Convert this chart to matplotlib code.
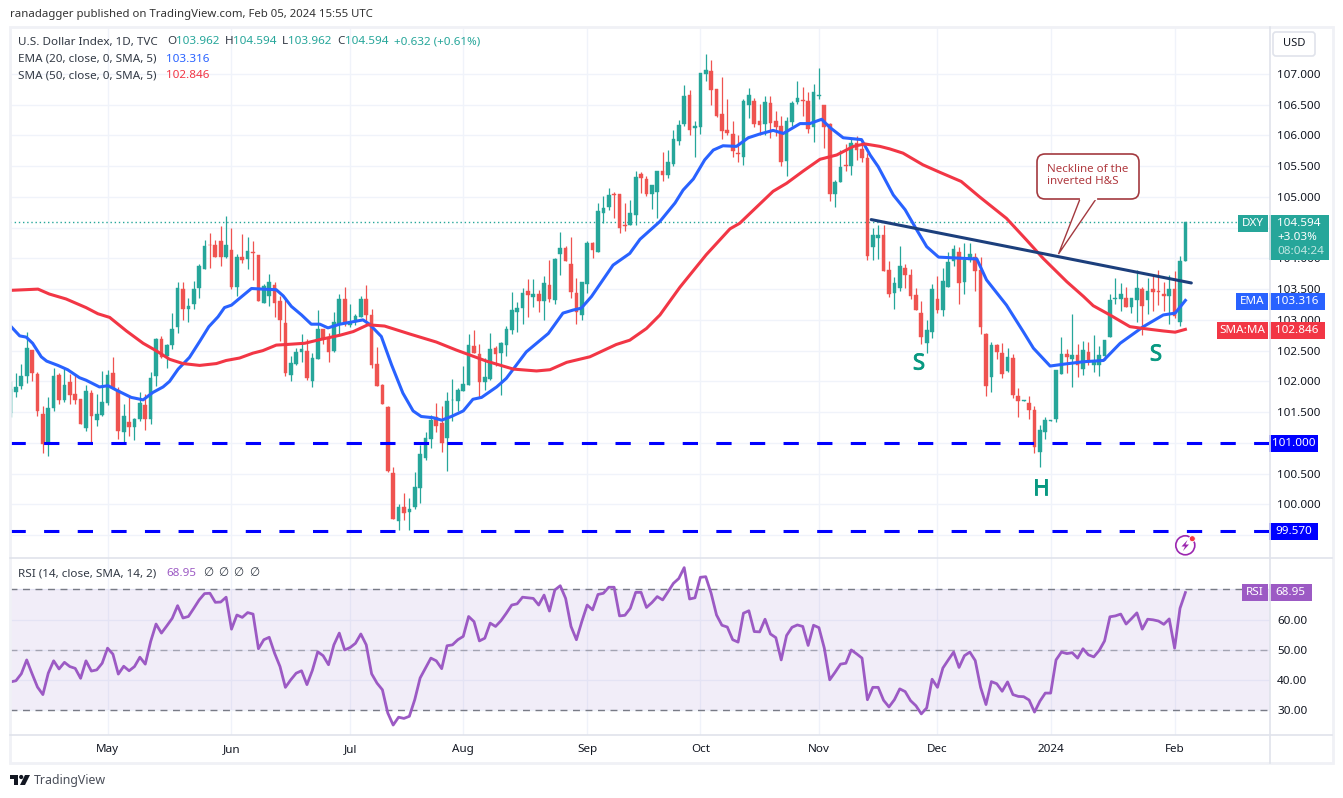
import matplotlib
matplotlib.use("Agg")
import matplotlib.pyplot as plt
import matplotlib.patheffects as pe
import numpy as np
from matplotlib.patches import Rectangle, FancyBboxPatch, Polygon, Circle

plt.rcParams['font.family'] = ['Noto Sans', 'DejaVu Sans']

# daily candles
opens = [101.49, 101.82, 101.93, 102.08, 102.51, 102.12, 101.47, 100.99, 101.56, 102.10,
         101.69, 101.99, 101.80, 101.71, 101.25, 101.81, 101.38, 101.46, 101.65, 102.14,
         101.86, 101.18, 101.34, 101.26, 101.39, 101.62, 101.39, 102.08, 102.69, 102.41,
         102.59, 102.89, 103.50, 103.17, 103.25, 103.52, 103.83, 104.22, 104.22, 104.28,
         104.03, 104.14, 103.54, 104.02, 103.99, 104.10, 104.06, 103.28, 103.38, 103.57,
         103.31, 102.95, 102.11, 102.29, 102.47, 102.49, 102.01, 102.37, 102.85, 102.71,
         102.50, 102.93, 103.34, 102.91, 102.96, 103.05, 103.34, 103.08, 102.28, 101.94,
         101.58, 100.51, 99.73, 99.96, 99.88, 99.96, 100.26, 100.76, 101.06, 101.42,
         101.32, 101.08, 101.69, 101.68, 101.84, 101.94, 102.58, 102.45, 101.99, 102.04,
         102.54, 102.46, 102.59, 102.84, 103.13, 103.19, 103.47, 103.37, 103.42, 103.31,
         103.57, 103.32, 104.07, 104.17, 103.91, 103.44, 103.08, 103.58, 104.25, 104.10,
         104.73, 104.84, 105.05, 105.05, 104.54, 104.54, 104.71, 105.37, 105.29, 105.05,
         105.08, 105.42, 105.36, 105.54, 105.91, 106.19, 106.66, 106.12, 106.14, 107.00,
         107.05, 106.75, 106.35, 106.09, 106.02, 105.71, 105.65, 106.49, 106.56, 106.23,
         106.19, 106.53, 106.23, 106.15, 105.58, 106.22, 106.54, 106.58, 106.56, 106.14,
         106.64, 106.49, 106.19, 105.05, 105.24, 105.52, 105.50, 105.88, 105.78, 105.63,
         104.19, 104.33, 104.38, 103.81, 103.44, 103.52, 103.84, 103.73, 103.41, 103.11,
         102.62, 102.80, 103.34, 103.16, 103.54, 103.96, 104.10, 103.62, 103.97, 104.02,
         103.81, 102.77, 102.07, 102.59, 102.46, 102.17, 102.38, 101.76, 101.68, 101.65,
         101.54, 100.85, 101.18, 101.36, 101.39, 102.12, 102.45, 102.36, 102.43, 102.20,
         102.48, 102.27, 102.27, 102.41, 102.72, 103.34, 103.34, 103.36, 103.21, 103.32,
         103.50, 103.32, 103.50, 103.47, 103.42, 103.39, 103.50, 102.97, 103.962]
highs = [102.00, 102.13, 102.28, 102.80, 102.51, 102.15, 101.60, 101.75, 102.22, 102.14,
         102.22, 102.12, 102.12, 101.71, 101.94, 101.86, 101.80, 102.17, 102.19, 102.40,
         101.91, 101.63, 101.77, 101.41, 101.83, 101.80, 102.15, 102.71, 102.74, 102.61,
         103.11, 103.62, 103.62, 103.36, 103.63, 103.91, 104.30, 104.41, 104.30, 104.53,
         104.69, 104.49, 104.07, 104.40, 104.35, 104.28, 104.06, 103.59, 103.75, 103.62,
         103.38, 103.37, 102.41, 102.54, 102.77, 102.69, 102.46, 103.16, 102.85, 102.79,
         103.13, 103.42, 103.53, 103.26, 103.10, 103.39, 103.57, 103.18, 102.56, 101.95,
         101.60, 100.61, 100.01, 100.19, 100.10, 100.53, 100.97, 101.18, 101.45, 101.65,
         101.60, 101.83, 102.04, 101.89, 102.25, 102.77, 102.84, 102.61, 102.38, 102.79,
         102.58, 102.64, 102.90, 103.45, 103.29, 103.52, 103.67, 103.67, 103.49, 103.71,
         103.97, 104.00, 104.43, 104.20, 104.35, 103.68, 103.62, 104.28, 104.27, 104.90,
         105.02, 105.15, 105.08, 105.05, 104.90, 104.95, 105.42, 105.41, 105.34, 105.19,
         105.42, 105.73, 105.76, 106.09, 106.25, 106.82, 106.74, 106.23, 107.02, 107.32,
         107.23, 106.75, 106.95, 106.59, 106.23, 106.01, 106.59, 106.77, 106.61, 106.51,
         106.64, 106.64, 106.40, 106.32, 106.30, 106.56, 106.88, 106.79, 106.71, 106.84,
         107.10, 106.49, 106.20, 105.28, 105.76, 105.86, 105.96, 105.99, 105.94, 105.71,
         104.49, 104.54, 104.54, 103.96, 103.70, 104.20, 103.91, 103.83, 103.52, 103.31,
         103.00, 103.58, 103.71, 103.84, 104.10, 104.22, 104.19, 104.25, 104.25, 104.09,
         104.02, 102.79, 102.64, 102.61, 102.62, 102.54, 102.45, 101.89, 101.69, 101.76,
         101.60, 101.29, 101.42, 101.37, 102.19, 102.72, 102.53, 103.10, 102.61, 102.66,
         102.64, 102.75, 102.58, 102.67, 103.42, 103.68, 103.60, 103.54, 103.36, 103.81,
         103.54, 103.68, 103.71, 103.81, 103.62, 103.73, 103.80, 104.04, 104.594]
lows = [101.42, 101.75, 101.88, 101.98, 102.01, 101.44, 100.84, 100.79, 101.52, 101.64,
        101.67, 101.64, 101.64, 101.31, 101.20, 101.02, 101.28, 101.43, 101.62, 101.88,
        101.06, 101.02, 101.11, 101.04, 101.36, 101.21, 101.30, 101.93, 102.38, 102.21,
        102.53, 102.79, 102.99, 102.96, 103.17, 103.35, 103.83, 103.84, 104.03, 103.88,
        104.01, 103.50, 103.38, 103.93, 103.82, 103.65, 103.30, 103.27, 103.23, 103.04,
        102.66, 102.09, 102.01, 102.26, 102.32, 102.03, 101.91, 102.37, 102.61, 102.32,
        102.47, 102.75, 102.90, 102.89, 102.92, 103.05, 102.93, 102.22, 101.93, 101.64,
        100.52, 99.76, 99.58, 99.75, 99.58, 99.93, 100.03, 100.72, 100.91, 101.18,
        100.85, 100.54, 101.36, 101.52, 101.84, 101.94, 102.46, 101.74, 101.86, 102.02,
        102.25, 101.78, 102.41, 102.77, 102.80, 102.93, 103.05, 103.21, 103.13, 103.00,
        103.29, 103.26, 103.73, 103.96, 103.36, 102.93, 103.00, 103.43, 104.00, 104.10,
        104.58, 104.79, 104.66, 104.41, 104.45, 104.54, 104.54, 105.06, 105.02, 104.80,
        104.66, 105.26, 105.31, 105.50, 105.84, 106.15, 106.01, 105.65, 106.02, 106.88,
        106.49, 106.30, 105.94, 106.01, 105.65, 105.57, 105.52, 106.28, 106.14, 106.01,
        106.01, 105.96, 105.99, 105.50, 105.34, 106.15, 106.51, 106.32, 106.04, 105.89,
        106.59, 105.80, 104.93, 104.84, 105.24, 105.42, 105.36, 105.60, 105.57, 103.97,
        103.97, 103.99, 103.80, 103.37, 103.18, 103.47, 103.52, 103.34, 103.16, 102.61,
        102.46, 102.71, 103.11, 103.06, 103.54, 103.88, 103.26, 103.42, 103.94, 103.47,
        102.77, 101.76, 101.83, 102.36, 102.06, 102.15, 101.73, 101.42, 101.68, 101.39,
        100.84, 100.61, 101.06, 101.36, 101.34, 102.12, 102.14, 101.91, 102.07, 102.10,
        102.27, 102.15, 102.09, 102.35, 102.72, 103.26, 103.15, 103.21, 103.11, 102.97,
        102.75, 103.10, 103.15, 103.24, 103.15, 102.93, 103.03, 102.90, 103.962]
closes = [101.88, 101.91, 102.09, 102.54, 102.13, 101.52, 100.99, 101.57, 102.09, 101.70,
          101.94, 101.78, 101.70, 101.31, 101.84, 101.43, 101.47, 101.67, 102.10, 101.89,
          101.20, 101.44, 101.26, 101.39, 101.65, 101.39, 102.06, 102.69, 102.40, 102.59,
          102.85, 103.52, 103.17, 103.23, 103.50, 103.88, 104.20, 104.21, 104.03, 104.03,
          104.22, 103.54, 104.02, 103.98, 104.12, 104.09, 103.30, 103.55, 103.62, 103.28,
          102.99, 102.13, 102.30, 102.48, 102.53, 102.06, 102.38, 102.85, 102.70, 102.48,
          102.97, 103.34, 102.93, 102.96, 103.06, 103.34, 103.08, 102.26, 101.93, 101.64,
          100.55, 99.77, 99.96, 99.86, 99.93, 100.28, 100.82, 101.08, 101.37, 101.28,
          101.00, 101.68, 101.70, 101.86, 101.96, 102.59, 102.46, 101.99, 102.07, 102.53,
          102.45, 102.62, 102.85, 103.16, 103.19, 103.44, 103.41, 103.42, 103.31, 103.60,
          103.34, 103.99, 104.17, 103.96, 103.45, 103.13, 103.62, 104.25, 104.14, 104.77,
          104.82, 105.03, 105.03, 104.49, 104.53, 104.74, 105.32, 105.31, 105.05, 105.19,
          105.42, 105.36, 105.57, 105.94, 106.17, 106.64, 106.09, 106.15, 107.02, 107.06,
          106.74, 106.32, 106.07, 106.04, 105.75, 105.70, 106.56, 106.66, 106.19, 106.17,
          106.54, 106.20, 106.14, 105.57, 106.23, 106.53, 106.61, 106.56, 106.10, 106.71,
          106.66, 106.14, 105.05, 105.24, 105.49, 105.50, 105.88, 105.76, 105.63, 104.04,
          104.38, 104.38, 103.80, 103.42, 103.60, 103.88, 103.73, 103.39, 103.16, 102.72,
          102.84, 103.50, 103.16, 103.63, 103.94, 104.15, 103.60, 103.97, 104.07, 103.80,
          102.88, 101.93, 102.59, 102.48, 102.12, 102.40, 101.78, 101.68, 101.69, 101.54,
          100.93, 101.21, 101.37, 101.37, 102.19, 102.45, 102.40, 102.43, 102.27, 102.51,
          102.32, 102.32, 102.43, 102.67, 103.32, 103.36, 103.42, 103.21, 103.36, 103.52,
          103.23, 103.47, 103.45, 103.46, 103.39, 103.50, 103.06, 103.96, 104.594]

rsi_values = [39.3, 39.7, 42.0, 46.6, 42.0, 37.6, 35.1, 42.2, 46.3, 43.6,
              45.8, 44.4, 43.8, 40.5, 46.3, 42.9, 43.3, 45.5, 50.5, 48.5,
              41.9, 44.5, 43.0, 44.4, 47.5, 45.2, 52.7, 58.5, 55.5, 57.9,
              60.4, 64.6, 60.5, 61.0, 63.7, 66.5, 68.6, 68.7, 65.7, 65.8,
              67.4, 56.8, 61.5, 60.7, 62.3, 61.8, 50.3, 53.3, 54.1, 48.8,
              44.4, 37.5, 40.0, 42.2, 43.0, 38.4, 43.1, 49.3, 48.0, 45.0,
              51.6, 55.5, 49.9, 50.7, 52.1, 55.2, 51.6, 42.0, 38.9, 36.7,
              29.0, 25.0, 27.6, 27.2, 27.9, 33.4, 40.6, 43.9, 47.2, 46.3,
              43.7, 51.3, 51.6, 53.3, 54.4, 61.0, 59.3, 52.9, 53.8, 58.8,
              57.7, 59.6, 62.1, 64.8, 65.2, 67.4, 67.2, 67.0, 64.8, 68.1,
              62.8, 69.8, 71.2, 67.0, 57.7, 53.3, 59.3, 64.8, 63.2, 68.3,
              68.7, 70.7, 70.7, 61.2, 61.4, 63.7, 69.0, 69.0, 64.0, 65.6,
              67.6, 66.5, 69.2, 72.0, 73.6, 77.2, 66.8, 67.2, 74.0, 74.2,
              68.7, 61.5, 58.1, 57.5, 53.3, 52.5, 62.1, 62.9, 56.0, 55.9,
              60.1, 55.2, 54.0, 46.6, 54.7, 57.4, 58.2, 57.7, 51.4, 58.1,
              57.3, 50.5, 40.0, 42.5, 45.2, 45.5, 49.9, 48.6, 47.2, 33.4,
              37.5, 37.5, 33.2, 31.0, 33.4, 37.0, 36.1, 33.1, 31.4, 28.7,
              30.7, 40.2, 37.5, 43.9, 46.6, 49.2, 44.1, 48.0, 49.2, 46.4,
              37.5, 31.8, 39.4, 38.7, 36.2, 39.3, 35.1, 34.5, 34.4, 33.3,
              29.3, 32.9, 35.6, 35.6, 46.6, 49.2, 48.7, 49.0, 47.2, 50.3,
              48.3, 47.6, 49.7, 52.9, 60.9, 61.2, 61.8, 58.5, 60.3, 62.2,
              56.8, 60.1, 59.9, 59.5, 58.4, 60.2, 50.5, 63.7, 68.95]

# moving averages, read at the bends of each line
ema_idx = [0, 1.7, 2.9, 4.1, 5.7, 6.7, 8.8, 10.6, 12.8, 14, 16.5, 18.1, 19.6, 22.4, 24.6, 26.4,
           28.3, 29.5, 31.1, 33.2, 35.1, 36.8, 38.5, 39.7, 41, 42.5, 44.7, 46.8, 49.3, 50.6,
           52.1, 54, 55.8, 57.4, 58.9, 61.1, 65.4, 66.6, 68.8, 70.7, 72.8, 74.7, 76.2, 78.4,
           80, 81.8, 84, 85.8, 87.4, 90.2, 92, 95.7, 99.8, 102.5, 104.4, 105.9, 107.8, 111.8,
           114.9, 116.8, 120.5, 123.3, 124.8, 126.7, 128.8, 130.4, 132.2, 134.7, 136.9, 139,
           141.5, 143.4, 146.5, 148.3, 150.5, 152, 154.5, 157.9, 159.5, 161, 163.8, 166, 168.1,
           170, 172.2, 176.8, 179.3, 181.1, 184.8, 187.9, 189.8, 192.9, 195.4, 199.1, 202.8,
           205.9, 210.2, 213.9, 216.1, 218]
ema_val = [102.90, 102.74, 102.72, 102.62, 102.40, 102.33, 102.26, 102.19, 102.06, 102.02, 101.91,
           101.93, 101.86, 101.74, 101.70, 101.82, 101.91, 102.00, 102.20, 102.39, 102.65, 102.89,
           103.05, 103.20, 103.24, 103.35, 103.51, 103.50, 103.49, 103.39, 103.22, 103.08, 102.93,
           102.93, 102.87, 102.93, 103.00, 102.93, 102.73, 102.27, 101.81, 101.52, 101.43, 101.41,
           101.37, 101.43, 101.52, 101.71, 101.74, 101.91, 102.05, 102.48, 102.78, 103.11, 103.16,
           103.19, 103.38, 103.89, 104.08, 104.31, 104.60, 104.90, 105.11, 105.29, 105.60, 105.76,
           105.83, 105.82, 105.96, 106.02, 106.08, 106.03, 106.19, 106.19, 106.26, 106.13, 105.96,
           105.93, 105.68, 105.49, 105.03, 104.79, 104.47, 104.19, 104.02, 104.00, 103.99, 103.65,
           103.24, 102.81, 102.54, 102.25, 102.28, 102.32, 102.34, 102.62, 102.89, 103.08, 103.11,
           103.316]
sma_idx = [0, 2.6, 5.1, 7.2, 10.3, 14, 16.2, 18.4, 21.5, 24.6, 27, 29.5, 32, 35.1, 38.2, 40, 42.5,
           45, 46.8, 49.3, 51.2, 54.6, 57.4, 61.1, 63.6, 66.3, 69.4, 74.1, 79, 82.7, 88.3, 93.3,
           97.6, 100.1, 103.2, 107.5, 112.4, 114.9, 118, 120.5, 124.2, 125.4, 129.1, 133.5, 135.3,
           137.2, 141.5, 144, 147.1, 150.2, 153.3, 156.4, 158.5, 161.3, 163.1, 165.6, 169.3, 172.4,
           176.4, 179.8, 184.8, 188.5, 191.6, 196, 199.1, 200.9, 204, 207.7, 210.2, 213.9, 216.1, 218]
sma_val = [103.48, 103.49, 103.50, 103.42, 103.34, 103.20, 103.10, 103.04, 102.82, 102.62, 102.50,
           102.36, 102.29, 102.26, 102.29, 102.34, 102.38, 102.46, 102.50, 102.59, 102.60, 102.62,
           102.68, 102.75, 102.81, 102.92, 102.90, 102.77, 102.64, 102.51, 102.33, 102.20, 102.17,
           102.19, 102.31, 102.40, 102.60, 102.67, 102.86, 103.08, 103.53, 103.66, 104.06, 104.48,
           104.57, 104.73, 105.09, 105.22, 105.42, 105.61, 105.68, 105.82, 105.86, 105.82, 105.78,
           105.71, 105.52, 105.40, 105.25, 105.00, 104.65, 104.30, 104.00, 103.62, 103.38, 103.23,
           103.08, 102.89, 102.86, 102.82, 102.80, 102.846]

neck_idx = [159.7, 219.1]
neck_val = [104.63, 103.60]
support_levels = [101.0, 99.57]

price_ticks = np.arange(99.5, 107.5, 0.5)
hidden_price_ticks = [99.5, 101.0, 104.5]  # sit behind the price tags
rsi_ticks = [30, 40, 50, 60, 70]
month_idx = [18, 41, 63, 84, 107, 128, 150, 172, 193, 216]
month_labels = ['May', 'Jun', 'Jul', 'Aug', 'Sep', 'Oct', 'Nov', 'Dec', '2024', 'Feb']

GREEN = '#26a69a'
RED = '#ef5350'
BLUE = '#2962ff'
SMA_RED = '#f23645'
PURPLE = '#9c5ac4'
GRID = '#f0f3fa'
LINE = '#e0e3eb'
TEXT = '#131722'
W, H = 1343, 798
FS = 8.4


def pane(top, bottom):
    return [10 / W, 1 - bottom / H, 1260 / W, (bottom - top) / H]


fig = plt.figure(figsize=(W / 100, H / 100), dpi=100)
ax = fig.add_axes(pane(27, 558))
ax2 = fig.add_axes(pane(558, 735), sharex=ax)
xlim = (-0.1, 233.7)

idx = np.arange(len(opens))
o, h, l, c = map(np.array, (opens, highs, lows, closes))
cols = [GREEN if b >= a else RED for a, b in zip(o, c)]

for a in (ax, ax2):
    a.set_xlim(*xlim)
    a.set_xticks(month_idx)
    a.grid(True, color=GRID, lw=1.0)
    a.set_axisbelow(True)
    a.yaxis.tick_right()
    a.tick_params(length=0, labelsize=FS, labelcolor=TEXT)
    for s in a.spines.values():
        s.set_visible(False)

# price pane
ax.set_ylim(99.13, 107.76)
ax.set_yticks(price_ticks)
ax.set_yticklabels(['' if t in hidden_price_ticks else f'{t:.3f}' for t in price_ticks])
ax.tick_params(axis='y', pad=5)
ax.tick_params(axis='x', labelbottom=False)
ax.vlines(idx, l, h, colors=cols, lw=0.9, zorder=2)
ax.bar(idx, np.abs(c - o), bottom=np.minimum(o, c), width=0.68, color=cols,
       edgecolor=cols, lw=0.3, zorder=3)
ax.axhline(closes[-1], xmax=(1237 - 10) / 1260, color=GREEN, lw=1, ls=(0, (1, 2)), zorder=1)
for lvl in support_levels:
    ax.axhline(lvl, color='#0000ff', lw=2.2, ls=(0, (5, 6)), dash_capstyle='butt', zorder=4)
ax.plot(ema_idx, ema_val, color=BLUE, lw=2.2, zorder=5)
ax.plot(sma_idx, sma_val, color=SMA_RED, lw=2.2, zorder=5)
ax.plot(neck_idx, neck_val, color='#1c3f7c', lw=2.2, zorder=6, solid_capstyle='round')

# RSI pane
ax2.set_ylim(21.7, 80.4)
ax2.set_yticks(rsi_ticks)
ax2.set_yticklabels(['' if t == 70 else f'{t:.2f}' for t in rsi_ticks])
ax2.tick_params(axis='y', pad=5)
ax2.set_xticklabels(month_labels)
ax2.tick_params(axis='x', pad=6.5)
ax2.axhspan(30, 70, color='#7e57c2', alpha=0.1, lw=0)
ax2.axhline(70, color='#787b86', lw=1, ls=(0, (5, 4)))
ax2.axhline(50, color='#787b86', lw=1, ls=(0, (5, 4)), alpha=0.6)
ax2.axhline(30, color='#787b86', lw=1, ls=(0, (5, 4)))
ax2.plot(idx, rsi_values, color=PURPLE, lw=2.0, zorder=5)

# overlay in pixel coordinates for the tradingview furniture
ov = fig.add_axes([0, 0, 1, 1], zorder=10)
ov.set_xlim(0, W)
ov.set_ylim(H, 0)
ov.axis('off')
ov.patch.set_alpha(0)


def txt(x, y, s, color=TEXT, size=FS, ha='left', **kw):
    return ov.text(x, y, s, color=color, fontsize=size, ha=ha, va='center', **kw)


def box(x0, y0, x1, y1, color):
    ov.add_patch(Rectangle((x0, y0), x1 - x0, y1 - y0, fc=color, ec='none'))


# frame
ov.add_patch(Rectangle((9.5, 27), 1323, 736, fc='none', ec='#f0f1f6', lw=2))
ov.plot([10, 1332], [558, 558], color=LINE, lw=1.2)
ov.plot([10, 1332], [735, 735], color=LINE, lw=1.2)
ov.plot([1270, 1270], [27, 763], color=LINE, lw=1.2)

# header and legend
txt(10, 15, 'ranadagger published on TradingView.com, Feb 05, 2024 15:55 UTC', color='#333333', size=8.2)
txt(18, 42, 'U.S. Dollar Index, 1D, TVC', color='#333a45')
for x, s in [(167, 'O'), (225, 'H'), (282, 'L'), (337, 'C')]:
    txt(x, 42, s, color='#333a45')
for x, s in [(176, '103.962'), (233, '104.594'), (288, '103.962'), (345, '104.594'),
             (394, '+0.632 (+0.61%)')]:
    txt(x, 42, s, color=GREEN)
txt(18, 59, 'EMA (20, close, 0, SMA, 5)', color='#333a45')
txt(166, 59, '103.316', color=BLUE)
txt(18, 76, 'SMA (50, close, 0, SMA, 5)', color='#333a45')
txt(166, 76, '102.846', color=SMA_RED)
txt(18, 574, 'RSI (14, close, SMA, 14, 2)', color='#333a45')
txt(166, 574, '68.95', color=PURPLE)
for x in (203, 218, 233, 249):
    txt(x, 574, '∅', color='#333a45')

# USD button
ov.add_patch(FancyBboxPatch((1273, 32), 42, 24, boxstyle='round,pad=0,rounding_size=3',
                            fc='white', ec=LINE, lw=1.2))
txt(1294, 44, 'USD', ha='center', size=8.0)

# price tags
box(1238, 215, 1268, 232, GREEN)
txt(1253, 223.5, 'DXY', color='white', ha='center')
box(1269, 215, 1329, 260, GREEN)
txt(1299, 223.5, '104.594', color='white', ha='center')
txt(1277, 238, '+3.03%', color='white')
txt(1277, 252, '08:04:24', color='#bfe6e2')
box(1236, 293, 1268, 310, BLUE)
txt(1252, 301.5, 'EMA', color='white', ha='center')
box(1269, 293, 1325, 310, BLUE)
txt(1297, 301.5, '103.316', color='white', ha='center')
box(1217, 322, 1268, 339, SMA_RED)
txt(1242.5, 330.5, 'SMA:MA', color='white', ha='center')
box(1269, 322, 1325, 339, SMA_RED)
txt(1297, 330.5, '102.846', color='white', ha='center')
box(1269, 435, 1318, 452, '#0000ff')
txt(1293.5, 443.5, '101.000', color='white', ha='center')
box(1269, 523, 1318, 540, '#0000ff')
txt(1293.5, 531.5, '99.570', color='white', ha='center')
box(1242, 584, 1268, 601, PURPLE)
txt(1255, 592.5, 'RSI', color='white', ha='center')
box(1269, 584, 1312, 601, PURPLE)
txt(1290.5, 592.5, '68.95', color='white', ha='center')

# pattern labels
for x, y, s in [(919, 364, 'S'), (1156, 355, 'S'), (1041, 489, 'H')]:
    t = txt(x, y, s, color='#089981', size=16, ha='center')
    t.set_path_effects([pe.withStroke(linewidth=0.6, foreground='#089981')])

# callout
ov.add_patch(FancyBboxPatch((1037, 154), 102, 45, boxstyle='round,pad=0,rounding_size=8',
                            fc='white', ec='#a3393f', lw=1.2))
ov.add_patch(Polygon([(1080, 199), (1058.5, 254), (1096, 199)], closed=False,
                     fc='white', ec='#a3393f', lw=1.0))
ov.plot([1080.5, 1095.5], [199, 199], color='white', lw=1.6)
txt(1047, 170, 'Neckline of the', color='#b03a40', size=8.3)
txt(1047, 182, 'inverted H&S', color='#b03a40', size=8.3)

# snapshot icon
ov.add_patch(Circle((1185.3, 545.3), 9.5, fc='white', ec='#9c27b0', lw=1.2))
ov.add_patch(Polygon([(1187.5, 540), (1181.5, 546.5), (1185, 546.5), (1183, 551),
                      (1189, 544.5), (1185.5, 544.5)], fc='#9c27b0', ec='none'))
ov.add_patch(Circle((1192.3, 538.7), 3, fc='#f23645', ec='white', lw=0.6))

# logo
ov.add_patch(Polygon([(10, 775), (18, 775), (18, 785), (14, 785), (14, 778.5), (10, 778.5)],
                     fc='#131722', ec='none'))
ov.add_patch(Circle((21.2, 777), 2.1, fc='#131722', ec='none'))
ov.add_patch(Polygon([(25, 775), (30, 775), (25, 785), (20, 785)], fc='#131722', ec='none'))
txt(34, 780.5, 'TradingView', color='#4a4e59', size=8.9)

fig.savefig('out.png', dpi=100)
